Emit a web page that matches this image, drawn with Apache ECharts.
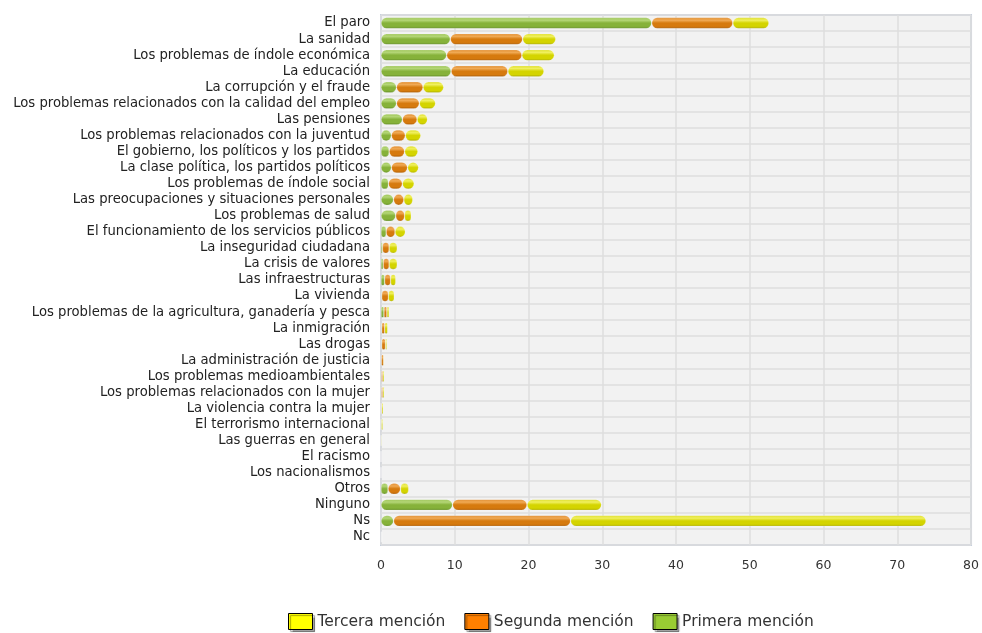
<!DOCTYPE html>
<html><head><meta charset="utf-8">
<script src="https://cdn.jsdelivr.net/npm/echarts@6/dist/echarts.min.js"></script>
<style>html,body{margin:0;padding:0;background:#fff}#c{width:982px;height:633px}</style>
</head><body><div id="c"></div>
<script>
const categories = ["El paro","La sanidad","Los problemas de índole económica","La educación","La corrupción y el fraude","Los problemas relacionados con la calidad del empleo","Las pensiones","Los problemas relacionados con la juventud","El gobierno, los políticos y los partidos","La clase política, los partidos políticos","Los problemas de índole social","Las preocupaciones y situaciones personales","Los problemas de salud","El funcionamiento de los servicios públicos","La inseguridad ciudadana","La crisis de valores","Las infraestructuras","La vivienda","Los problemas de la agricultura, ganadería y pesca","La inmigración","Las drogas","La administración de justicia","Los problemas medioambientales","Los problemas relacionados con la mujer","La violencia contra la mujer","El terrorismo internacional","Las guerras en general","El racismo","Los nacionalismos","Otros","Ninguno","Ns","Nc"];
const primera = [36.7,9.4,8.9,9.5,2.1,2.1,2.9,1.4,1.1,1.4,1.0,1.7,2.0,0.7,0.2,0.3,0.5,0.1,0.4,0.1,0.1,0.05,0.05,0.05,0,0,0,0,0,0.95,9.7,1.7,0.05];
const segunda = [11.0,9.8,10.2,7.7,3.6,3.1,2.0,1.9,2.1,2.2,1.9,1.4,1.2,1.2,0.9,0.8,0.8,0.9,0.4,0.4,0.5,0.3,0.2,0.2,0.1,0.05,0.05,0,0,1.7,10.1,24.0,0.05];
const tercera = [4.9,4.5,4.4,4.9,2.8,2.2,1.4,2.1,1.8,1.5,1.6,1.2,0.9,1.4,1.1,1.1,0.7,0.8,0.3,0.4,0.2,0.1,0.2,0.2,0.2,0.2,0.1,0,0,1.1,10.1,48.2,0.05];
const xTicks = [0,10,20,30,40,50,60,70,80];

function grad(top, hi, mid, bot){
  return new echarts.graphic.LinearGradient(0,0,0,1,[
    {offset:0,color:top},{offset:0.25,color:hi},{offset:0.5,color:mid},{offset:0.8,color:mid},{offset:1,color:bot}]);
}
const BG = '#f2f2f2';
function mk(name, data, g){
  return {name, type:'bar', stack:'t', data, barWidth:11,
    itemStyle:{color:g, borderRadius:5.5, borderColor:'rgba(255,255,255,0.35)', borderWidth:0.6},
    emphasis:{disabled:true}};
}
const legendShadow = {shadowColor:'rgba(0,0,0,0.35)', shadowOffsetX:2, shadowOffsetY:2, shadowBlur:1};
const chart = echarts.init(document.getElementById('c'));
chart.setOption({
  animation:false,
  legend:{bottom:-2, left:283, itemWidth:24, itemHeight:16, itemGap:19, itemTextGap:8, icon:'rect',
    textStyle:{fontFamily:'DejaVu Sans', fontSize:15.5, color:'#333'},
    data:[
      {name:'Tercera mención', itemStyle:Object.assign({color:'#ffff00', borderColor:'#000', borderWidth:1}, legendShadow)},
      {name:'Segunda mención', itemStyle:Object.assign({color:'#ff8000', borderColor:'#000', borderWidth:1}, legendShadow)},
      {name:'Primera mención', itemStyle:Object.assign({color:'#99cc33', borderColor:'#000', borderWidth:1}, legendShadow)}
    ]},
  grid:{left:381, right:10, top:15, bottom:88, show:true, backgroundColor:BG, borderColor:'#c5d0de', borderWidth:2},
  xAxis:{type:'value', min:xTicks[0], max:xTicks[xTicks.length-1], interval:10,
    axisLine:{show:false}, axisTick:{show:false},
    axisLabel:{color:'#333', fontFamily:'DejaVu Sans', fontSize:12.5, margin:14},
    splitLine:{lineStyle:{color:'#dedede', width:1.5}}},
  yAxis:{type:'category', data:categories, inverse:true,
    axisLine:{show:false}, axisTick:{show:false},
    axisLabel:{color:'#222', fontFamily:'DejaVu Sans', fontSize:13.2, margin:11, interval:0},
    splitLine:{show:true, lineStyle:{color:'#dedede', width:1.5}}},
  series:[
    mk('Primera mención', primera, grad('#9cc455','#b4d677','#86b23a','#5f8a22')),
    mk('Segunda mención', segunda, grad('#e08a2a','#f0aa55','#d67a0e','#a85a05')),
    mk('Tercera mención', tercera, grad('#dddd22','#f0f060','#d4d400','#a9a900'))
  ]
});
</script></body></html>
